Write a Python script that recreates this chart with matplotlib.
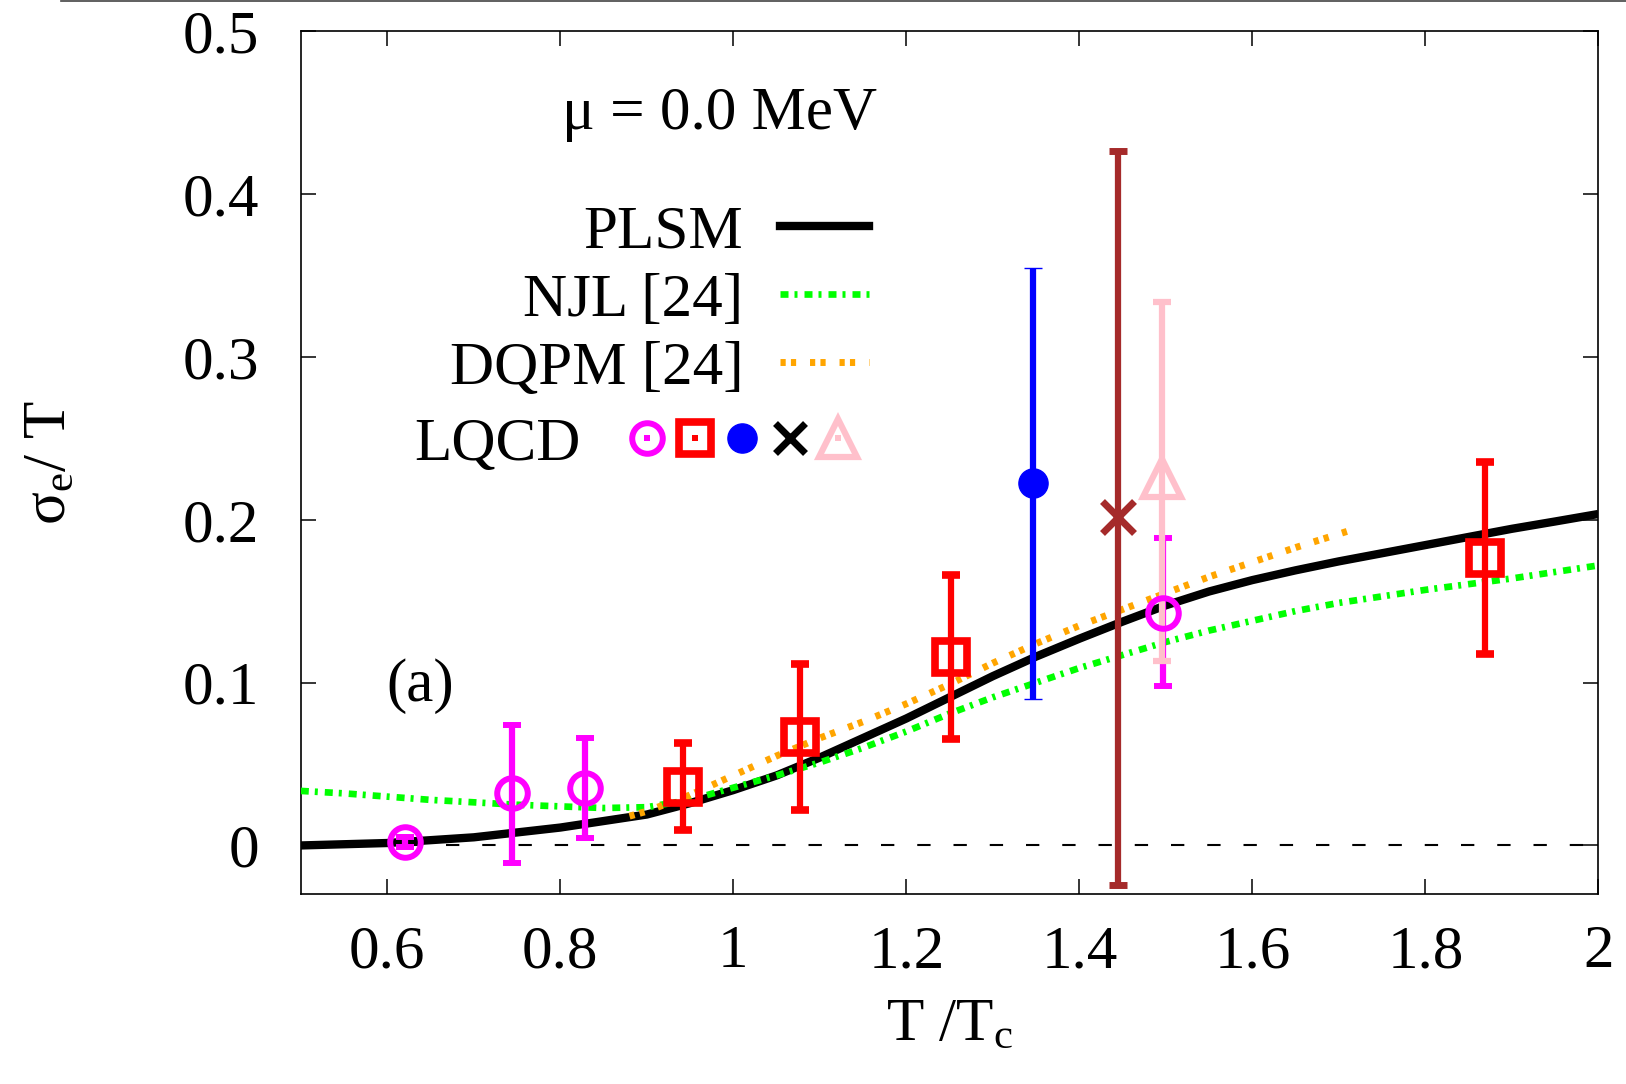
import matplotlib
matplotlib.use("Agg")
import matplotlib.pyplot as plt
from matplotlib.lines import Line2D
from matplotlib.legend_handler import HandlerTuple
from matplotlib.ticker import FuncFormatter

plt.rcParams['font.family'] = ['Liberation Serif', 'DejaVu Serif']
plt.rcParams['mathtext.fontset'] = 'custom'
plt.rcParams['mathtext.rm'] = 'Liberation Serif'
plt.rcParams['mathtext.it'] = 'Liberation Serif'
plt.rcParams['mathtext.default'] = 'regular'

FS = 44

# ─── curves ───────────────────────────────────────
plsm_t = [0.50, 0.60, 0.70, 0.75, 0.80, 0.85, 0.90, 0.95, 1.00, 1.05, 1.10, 1.15,
          1.20, 1.25, 1.30, 1.35, 1.40, 1.45, 1.50, 1.55, 1.60, 1.65, 1.70, 1.75,
          1.80, 1.85, 1.90, 1.95, 2.00]
plsm_s = [0.000, 0.0015, 0.005, 0.008, 0.011, 0.015, 0.019, 0.026, 0.034, 0.043, 0.054, 0.066,
          0.078, 0.091, 0.104, 0.116, 0.127, 0.1375, 0.1475, 0.156, 0.163, 0.169, 0.1745, 0.1795,
          0.1845, 0.1895, 0.1945, 0.199, 0.2036]

njl_t = [0.50, 0.55, 0.60, 0.65, 0.70, 0.75, 0.80, 0.85, 0.90, 0.95, 1.00, 1.05, 1.10,
         1.15, 1.20, 1.25, 1.30, 1.35, 1.40, 1.45, 1.50, 1.55, 1.60, 1.65, 1.70, 1.75,
         1.80, 1.85, 1.90, 1.95, 2.00]
njl_s = [0.0335, 0.032, 0.030, 0.028, 0.0265, 0.025, 0.024, 0.023, 0.0235, 0.028, 0.0355, 0.043, 0.051,
         0.060, 0.070, 0.081, 0.091, 0.100, 0.109, 0.117, 0.125, 0.132, 0.138, 0.144, 0.149, 0.153,
         0.157, 0.1605, 0.164, 0.168, 0.172]

dqpm_t = [0.88, 0.90, 0.95, 1.00, 1.05, 1.10, 1.15, 1.20, 1.25, 1.30, 1.35, 1.40,
          1.45, 1.50, 1.55, 1.60, 1.65, 1.71]
dqpm_s = [0.018, 0.021, 0.031, 0.043, 0.055, 0.066, 0.076, 0.087, 0.099, 0.112, 0.124, 0.135,
          0.145, 0.155, 0.165, 0.174, 0.183, 0.193]

# ─── LQCD points (value, lower err, upper err) ─────
mag_t = [0.620, 0.744, 0.829, 1.497]
mag_s = [0.002, 0.032, 0.0355, 0.143]
mag_lo = [0.003, 0.0425, 0.031, 0.045]
mag_hi = [0.003, 0.042, 0.0305, 0.046]

red_t = [0.942, 1.077, 1.252, 1.869]
red_s = [0.036, 0.0667, 0.116, 0.1765]
red_lo = [0.0265, 0.045, 0.0505, 0.059]
red_hi = [0.027, 0.0445, 0.050, 0.059]

blue_t = [1.3466]
blue_s = [0.2224]
blue_lo = [0.1322]
blue_hi = [0.132]

brown_t = [1.445]
brown_s = [0.2015]
brown_lo = [0.2255]
brown_hi = [0.225]

pink_t = [1.495]
pink_s = [0.2256]
pink_lo = [0.1126]
pink_hi = [0.1084]

xticks = [0.6, 0.8, 1.0, 1.2, 1.4, 1.6, 1.8, 2.0]
yticks = [0.0, 0.1, 0.2, 0.3, 0.4, 0.5]

NJL_LS = (0, (1.2, 0.9, 0.45, 1.05))
DQPM_LS = (0, (0.75, 0.75, 0.75, 2.0))

fig = plt.figure(figsize=(16.26, 10.84), dpi=100)
ax = fig.add_axes([0.185, 0.175, 0.798, 0.796])

# zero line
ax.axhline(0, color='black', lw=1.5, ls=(0, (6.4, 11)), zorder=1)

ax.plot(plsm_t, plsm_s, color='black', lw=6, zorder=2, solid_capstyle='butt')
ax.plot(njl_t, njl_s, color='#00ff00', lw=4.8, ls=NJL_LS, zorder=3)
ax.plot(dqpm_t, dqpm_s, color='#ffa500', lw=5, ls=DQPM_LS, zorder=4)

eb = dict(elinewidth=4.5, capsize=6.5, capthick=4.5, zorder=5)
ax.errorbar(mag_t, mag_s, yerr=[mag_lo, mag_hi], fmt='o', color='#ff00ff', ms=22,
            mfc='none', mew=4.3, **eb)
ax.errorbar(red_t, red_s, yerr=[red_lo, red_hi], fmt='s', color='#ff0000', ms=22.5,
            mfc='none', mew=5.5, **eb)
ax.errorbar(blue_t, blue_s, yerr=[blue_lo, blue_hi], fmt='o', color='#0000ff', ms=21,
            mew=1, **eb)
ax.errorbar(brown_t, brown_s, yerr=[brown_lo, brown_hi], fmt='x', color='#a52a2a', ms=23,
            mew=5, **eb)
ax.errorbar(pink_t, pink_s, yerr=[pink_lo, pink_hi], fmt='^', color='#ffc0cb', ms=27,
            mfc='none', mew=4.5, **eb)

ax.set_xlim(0.5, 2.0)
ax.set_ylim(-0.03, 0.5)
ax.set_xticks(xticks)
ax.set_yticks(yticks)
fmt = FuncFormatter(lambda v, p: '%g' % v)
ax.xaxis.set_major_formatter(fmt)
ax.yaxis.set_major_formatter(fmt)
ax.tick_params(axis='both', direction='in', length=11, width=1.1, labelsize=FS,
               top=True, right=True)
ax.tick_params(axis='y', pad=30)
ax.tick_params(axis='x', pad=22)
for sp in ax.spines.values():
    sp.set_linewidth(1.2)

ax.set_xlabel('T /T$_c$', fontsize=FS)
ax.set_ylabel(r'$\sigma_e$/ T', fontsize=FS)
ax.xaxis.set_label_coords(0.5, -0.168)
ax.xaxis.label.set_va('baseline')
ax.yaxis.set_label_coords(-0.1935, 0.5)
ax.yaxis.label.set_va('center')

ax.text(0.323, 0.904, 'μ = 0.0 MeV', transform=ax.transAxes, fontsize=FS,
        ha='center', va='center')
ax.text(0.0917, 0.241, '(a)', transform=ax.transAxes, fontsize=FS,
        ha='center', va='center')

# ─── legends ──────────────────────────────────────
h_plsm = Line2D([], [], color='black', lw=6)
h_njl = Line2D([], [], color='#00ff00', lw=4.8, ls=NJL_LS)
h_dqpm = Line2D([], [], color='#ffa500', lw=5, ls=DQPM_LS)
leg1 = ax.legend([h_plsm, h_njl, h_dqpm], ['PLSM', 'NJL [24]', 'DQPM [24]'],
                 loc='center right', bbox_to_anchor=(0.438, 0.688), frameon=False,
                 markerfirst=False, fontsize=FS, handlelength=1.46, handletextpad=0.6,
                 labelspacing=0.2, borderpad=0, borderaxespad=0)
ax.add_artist(leg1)

def dot(c):
    return Line2D([], [], ls='none', marker='s', ms=4.5, color=c, mew=0)

m1 = (Line2D([], [], ls='none', marker='o', ms=22, mfc='none', mec='#ff00ff', mew=4.3), dot('#ff00ff'))
m2 = (Line2D([], [], ls='none', marker='s', ms=22.5, mfc='none', mec='#ff0000', mew=5.5), dot('#ff0000'))
m3 = Line2D([], [], ls='none', marker='o', ms=21, color='#0000ff', mew=1)
m4 = Line2D([], [], ls='none', marker='x', ms=21, color='black', mew=5)
m5 = (Line2D([], [], ls='none', marker='^', ms=27, mfc='none', mec='#ffc0cb', mew=4.5), dot('#ffc0cb'))
lqcd = (m1, m2, m3, m4, m5)
leg2 = ax.legend([lqcd], ['LQCD'], loc='center right', bbox_to_anchor=(0.432, 0.521),
                 frameon=False, markerfirst=False, fontsize=FS, handlelength=3.89,
                 handletextpad=0.7, borderpad=0, borderaxespad=0,
                 handler_map={lqcd: HandlerTuple(ndivide=None, pad=0)})

fig.add_artist(Line2D([0.0375, 1.0], [0.9993, 0.9993], color='#444444', lw=1.2))

fig.savefig('out.png', dpi=100)
